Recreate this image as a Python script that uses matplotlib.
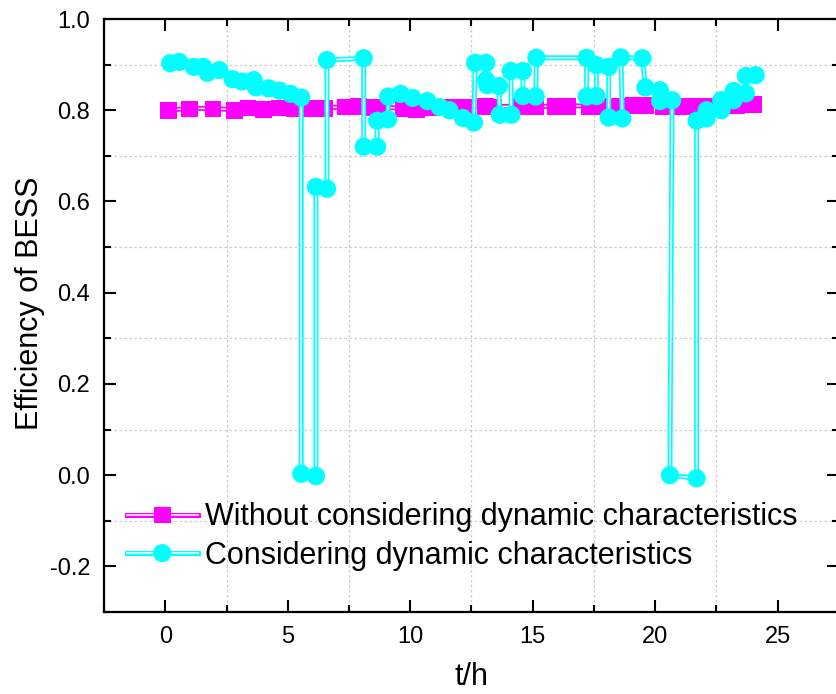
import matplotlib
matplotlib.use("Agg")
import matplotlib.pyplot as plt
import matplotlib.patheffects as pe
from matplotlib.ticker import MultipleLocator

plt.rcParams['font.family'] = ['Liberation Sans', 'DejaVu Sans']
plt.rcParams['axes.unicode_minus'] = False

# Without considering dynamic characteristics
t_fixed = [0.1, 0.98, 1.93, 2.79, 3.36, 4.0, 4.63, 5.27, 5.91, 6.5, 7.34, 7.86,
           8.47, 8.85, 9.7, 10.25, 10.9, 11.6, 12.2, 13.04, 13.4, 14.5, 15.1,
           15.9, 16.4, 17.3, 18.0, 18.4, 19.1, 19.6, 20.3, 21.1, 21.5, 22.2,
           23.3, 24.0]
eff_fixed = [0.800, 0.804, 0.804, 0.801, 0.806, 0.803, 0.806, 0.805, 0.805,
             0.805, 0.808, 0.809, 0.807, 0.806, 0.805, 0.802, 0.806, 0.807,
             0.808, 0.810, 0.808, 0.809, 0.808, 0.809, 0.810, 0.809, 0.810,
             0.810, 0.811, 0.812, 0.810, 0.809, 0.809, 0.810, 0.812, 0.813]

# Considering dynamic characteristics
t_dyn = [0.20, 0.57, 1.16, 1.55, 1.73, 2.21, 2.75, 3.13, 3.61, 3.70, 4.22, 4.66,
         5.11, 5.55, 5.55, 6.15, 6.15, 6.60, 6.60, 8.10, 8.10, 8.65, 8.65, 9.10,
         9.10, 9.60, 10.10, 10.70, 11.20, 11.60, 12.15, 12.60, 12.65, 13.10,
         13.10, 13.15, 13.62, 13.65, 14.13, 14.10, 14.60, 14.60, 15.12, 15.15,
         17.20, 17.20, 17.60, 17.60, 18.10, 18.10, 18.66, 18.60, 19.48, 19.60,
         20.19, 20.20, 20.69, 20.60, 21.69, 21.69, 22.10, 22.10, 22.70, 22.70,
         23.20, 23.20, 23.70, 23.70, 24.10]
eff_dyn = [0.903, 0.906, 0.895, 0.895, 0.882, 0.888, 0.868, 0.863, 0.866, 0.850,
           0.848, 0.843, 0.836, 0.828, 0.003, -0.002, 0.632, 0.628, 0.910,
           0.914, 0.720, 0.720, 0.777, 0.780, 0.830, 0.836, 0.827, 0.820,
           0.807, 0.800, 0.783, 0.773, 0.904, 0.904, 0.866, 0.855, 0.853,
           0.790, 0.790, 0.886, 0.886, 0.831, 0.830, 0.915, 0.915, 0.830,
           0.831, 0.899, 0.895, 0.784, 0.782, 0.916, 0.914, 0.850, 0.844,
           0.820, 0.822, 0.000, -0.007, 0.777, 0.782, 0.800, 0.800, 0.822,
           0.822, 0.842, 0.837, 0.875, 0.877]

fig = plt.figure(figsize=(8.37, 6.94), dpi=100)
ax = fig.add_axes([0.1243, 0.1182, 0.878, 0.8544])


def hollow(color):
    # Origin-like double line: coloured outline, white core
    return [pe.Stroke(linewidth=3.6, foreground=color), pe.Normal()]


ax.plot(t_fixed, eff_fixed, color='white', lw=1.1, marker='s', ms=8.5,
        mfc='#ff00ff', mec='#ff00ff', path_effects=hollow('#ff00ff'),
        label='Without considering dynamic characteristics', zorder=3)
ax.plot(t_dyn, eff_dyn, color='white', lw=1.1, marker='o', ms=9.5,
        mfc='#00ffff', mec='#00ffff', path_effects=hollow('#00ffff'),
        label='Considering dynamic characteristics', zorder=4)

ax.set_xlim(-2.5, 27.5)
ax.set_ylim(-0.3, 1.0)
ax.xaxis.set_major_locator(MultipleLocator(5))
ax.xaxis.set_minor_locator(MultipleLocator(2.5))
ax.yaxis.set_minor_locator(MultipleLocator(0.1))
ax.set_yticks([-0.2, 0.0, 0.2, 0.4, 0.6, 0.8, 1.0])

ax.grid(which='minor', color='#cccccc', linestyle=(0, (2, 2)), lw=0.9)
ax.set_axisbelow(True)

ax.tick_params(which='both', direction='in', top=True, right=True,
               width=1.5, labelsize=17)
ax.tick_params(which='major', length=8.5, pad=10)
ax.tick_params(which='minor', length=5)
for s in ax.spines.values():
    s.set_linewidth(1.6)

ax.set_xlabel('t/h', fontsize=22, labelpad=10)
ax.set_ylabel('Efficiency of BESS', fontsize=22)
ax.yaxis.set_label_coords(-0.08, 0.52)

ax.legend(loc='upper left', bbox_to_anchor=(0.031, 0.185), frameon=False,
          fontsize=22, handlelength=2.32, handletextpad=0.23,
          labelspacing=0.28, borderpad=0, borderaxespad=0)

fig.savefig('out.png', dpi=100)
